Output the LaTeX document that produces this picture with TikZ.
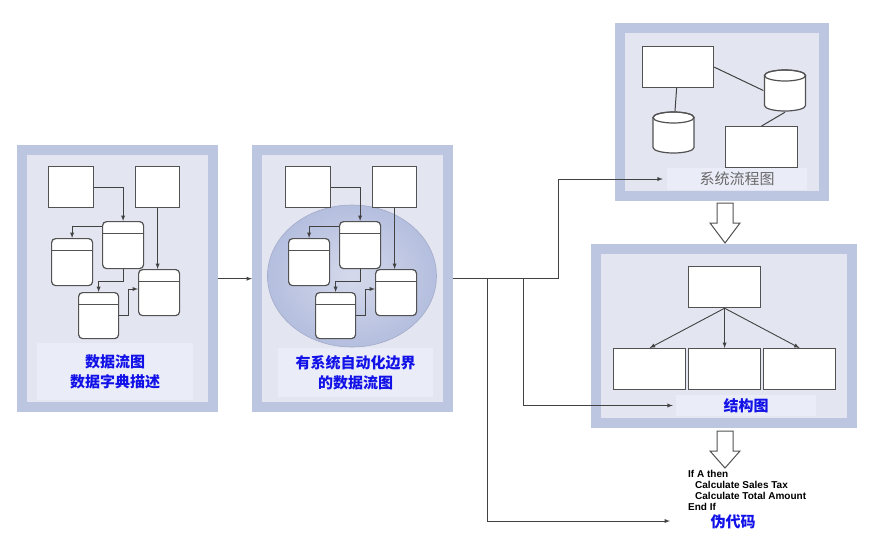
\documentclass[tikz,border=0pt]{standalone}
\usepackage{fontspec}
\setmainfont{Liberation Sans}
\newfontfamily\cjk{Noto Sans CJK SC}
\usetikzlibrary{shapes.geometric}
\definecolor{framecol}{RGB}{188,198,224}
\definecolor{panelcol}{RGB}{227,229,241}
\definecolor{labelcol}{RGB}{234,236,248}
\definecolor{ellcol}{RGB}{180,190,222}
\definecolor{boxline}{RGB}{82,82,82}
\definecolor{labelblue}{RGB}{18,18,232}
\definecolor{labelgray}{RGB}{105,105,105}
\tikzstyle{frame} = [rectangle, fill=framecol, inner sep=0pt, anchor=north west]
\tikzstyle{panel} = [rectangle, fill=panelcol, inner sep=0pt, anchor=north west]
\tikzstyle{caption} = [rectangle, fill=labelcol, inner sep=0pt, align=center,
text=labelblue, font=\cjk\bfseries\fontsize{15}{20}\selectfont]
\tikzstyle{box} = [rectangle, draw=boxline, fill=white, line width=1.2pt,
inner sep=0pt, anchor=north west]
\tikzstyle{store} = [box, rounded corners=4pt, path picture={
\draw [boxline, line width=1.2pt] ([yshift=-12pt]path picture bounding box.north west)
-- ([yshift=-12pt]path picture bounding box.north east);}]
\tikzstyle{drum} = [rectangle, inner sep=0pt, minimum width=43, minimum height=43,
path picture={
\coordinate (pp) at (path picture bounding box.center);
\draw [boxline, line width=1.2pt, fill=white] ([shift={(-20.5pt,15pt)}]pp)
-- ([shift={(-20.5pt,-15pt)}]pp)
arc [start angle=180, end angle=360, x radius=20.5pt, y radius=5.5pt]
-- ([shift={(20.5pt,15pt)}]pp)
arc [start angle=0, end angle=180, x radius=20.5pt, y radius=5.5pt] -- cycle;
\draw [boxline, line width=1.2pt] ([shift={(0pt,15pt)}]pp)
ellipse [x radius=20.5pt, y radius=5.5pt];}]
\tikzstyle{flow} = [draw=boxline!80!black, line width=0.9pt, -latex]
\tikzstyle{link} = [draw=boxline!80!black, line width=1pt]
\tikzstyle{hollow} = [draw=boxline, fill=white, line width=1pt, line join=miter]

\begin{document}
\begin{tikzpicture}[x=1pt, y=-1pt]
\useasboundingbox (0,0) rectangle (879,539);
\node [frame, minimum width=201, minimum height=267] (dfd) at (17,145) {};
\node [panel, minimum width=181, minimum height=247] (dfdin) at (27,155) {};
\node [frame, minimum width=201, minimum height=267] (adfd) at (252,145) {};
\node [panel, minimum width=181, minimum height=247] (adfdin) at (262,155) {};
\node [frame, minimum width=214, minimum height=178] (sysflow) at (615,23) {};
\node [panel, minimum width=194, minimum height=158] (sysflowin) at (625,33) {};
\node [frame, minimum width=266, minimum height=184] (struct) at (591,244) {};
\node [panel, minimum width=246, minimum height=164] (structin) at (601,254) {};

\node [ellipse, draw=ellcol!90!black, line width=0.6pt, inner color=panelcol!70!ellcol,
outer color=ellcol, minimum width=169, minimum height=142] (boundary) at (352,276) {};

\foreach \p/\dx in {a/0, b/237} {
\node [box, minimum width=45, minimum height=41] (\p src1) at (48+\dx,166) {};
\node [box, minimum width=44, minimum height=41] (\p src2) at (135+\dx,166) {};
\node [store, minimum width=41, minimum height=47] (\p st1) at (102+\dx,221) {};
\node [store, minimum width=41, minimum height=47] (\p st2) at (51+\dx,238) {};
\node [store, minimum width=41, minimum height=46] (\p st3) at (138+\dx,269) {};
\node [store, minimum width=40, minimum height=46] (\p st4) at (78+\dx,292) {};
\draw [flow] (\p src1.east) -| (\p st1.north);
\draw [flow] ([yshift=-5pt]\p st1.north west) -| (\p st2.north);
\draw [flow] (\p src2.south) -- (\p src2.south |- \p st3.north);
\draw [flow] (\p st1.south) -- ++(0,12) -| (\p st4.north);
\draw [flow] (\p st4.east) -- ++(9,0) |- ([yshift=-20pt]\p st3.north west);
}

\node [caption, minimum width=156, minimum height=57] (dfdcap) at (115,371.5)
{数据流图\\数据字典描述};
\node [caption, minimum width=155, minimum height=49] (adfdcap) at (355.5,372.5)
{有系统自动化边界\\的数据流图};

\node [box, minimum width=71, minimum height=41] (proc) at (642,46) {};
\node [drum] (file1) at (673.5,132.5) {};
\node [drum] (file2) at (785,90.5) {};
\node [box, minimum width=72, minimum height=41] (report) at (725,126) {};
\draw [link] (proc) -- (file1);
\draw [link] (proc.east) -- (file2.west);
\draw [link] (file2.south) -- (report.north);
\node [caption, minimum width=140, minimum height=22, text=labelgray,
font=\cjk\fontsize{15}{20}\selectfont] (sysflowcap) at (737,179) {系统流程图};

\node [box, minimum width=72, minimum height=41] (chart) at (688,266) {};
\node [box, minimum width=72, minimum height=41] (mod1) at (613,348) {};
\node [box, minimum width=72, minimum height=41] (mod2) at (688,348) {};
\node [box, minimum width=72, minimum height=41] (mod3) at (763,348) {};
\draw [flow] (chart.south) -- (mod1.north);
\draw [flow] (chart.south) -- (mod2.north);
\draw [flow] (chart.south) -- (mod3.north);
\node [caption, minimum width=140, minimum height=21] (structcap) at (746,405.5) {结构图};

\coordinate (down1) at (725,203);
\draw [hollow] (down1) ++(-8,0) -- ++(16,0) -- ++(0,20) -- ++(7,0) -- ++(-15,20)
-- ++(-15,-20) -- ++(7,0) -- cycle;
\coordinate (down2) at (725,431);
\draw [hollow] (down2) ++(-8,0) -- ++(16,0) -- ++(0,20) -- ++(7,0) -- ++(-15,17)
-- ++(-15,-17) -- ++(7,0) -- cycle;

\node [anchor=north west, inner sep=0pt, align=left,
font=\bfseries\fontsize{10}{11}\selectfont] (code) at (688,470)
{If A then\\\hspace*{7pt}Calculate Sales Tax\\\hspace*{7pt}Calculate Total Amount\\End If};
\node [text=labelblue, inner sep=0pt, font=\cjk\bfseries\fontsize{15}{20}\selectfont]
(codecap) at (733,522) {伪代码};
\coordinate (codein) at (670,521);

\draw [flow] (dfd.east) -- (adfd.west);
\draw [flow] (adfd.east) -- ++(105,0) |- ([xshift=-4pt]sysflowcap.west);
\draw [flow] ([xshift=70pt]adfd.east) |- ([xshift=-3pt]structcap.west);
\draw [flow] ([xshift=34pt]adfd.east) |- (codein);
\end{tikzpicture}
\end{document}
